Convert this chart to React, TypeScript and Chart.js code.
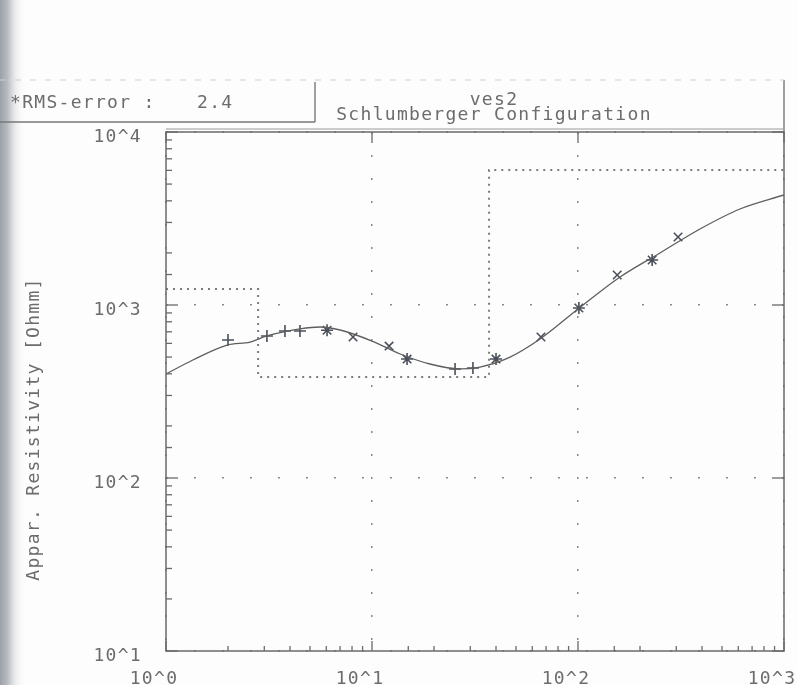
import React, { useEffect, useRef } from "react";
import { Chart, registerables } from "chart.js";
Chart.register(...registerables);

const W = 797;
const H = 685;
const FONT = "'DejaVu Sans Mono', 'Liberation Mono', monospace";
const TXT = "#6c6c6c";

// measured apparent resistivity (AB/2 [m], rho_a [Ohmm]) and marker shape
const dataX = [2.0, 3.09, 3.78, 4.47, 6.05, 8.09, 12.1, 14.8, 25.3, 30.9, 40.0, 66.1, 101, 155, 229, 306];
const dataY = [628, 662, 708, 708, 715, 653, 579, 487, 427, 432, 487, 653, 961, 1490, 1820, 2472];
const dataMarker = ["cross", "cross", "cross", "cross", "star", "crossRot", "crossRot", "star", "cross", "cross", "star", "crossRot", "star", "crossRot", "star", "crossRot"];

// model response curve
const curveX = [1, 1.35, 1.98, 2.56, 3.09, 4.47, 5.59, 7.0, 10, 13.7, 19.1, 26.7, 33.4, 46.8, 65.4, 100, 160, 250, 391, 611, 1000];
const curveY = [399, 481, 587, 611, 662, 727, 746, 717, 619, 521, 456, 427, 438, 500, 636, 948, 1452, 1999, 2750, 3589, 4325];

// layered model (depth, resistivity)
const layerX = [1, 2.8, 2.8, 37, 37, 1000];
const layerY = [1236, 1236, 384, 384, 6030, 6030];

const rmsLabel = "*RMS-error :";
const rmsValue = "2.4";
const titleLine1 = "ves2";
const titleLine2 = "Schlumberger Configuration";
const yTitle = "Appar. Resistivity [Ohmm]";

const isDecade = (v: number) => {
  const l = Math.log10(v);
  return Math.abs(l - Math.round(l)) < 1e-6;
};
const decadeLabel = (v: any) => (isDecade(Number(v)) ? "10^" + Math.round(Math.log10(Number(v))) : "");

const decor = {
  id: "decor",
  beforeDraw(chart: any) {
    const ctx = chart.ctx as CanvasRenderingContext2D;
    ctx.save();
    ctx.fillStyle = "#fdfdfd";
    ctx.fillRect(0, 0, W, H);
    const g = ctx.createLinearGradient(0, 0, 26, 0);
    g.addColorStop(0, "#9ca1a8");
    g.addColorStop(0.25, "#b3b7bd");
    g.addColorStop(0.55, "#e6e7e9");
    g.addColorStop(1, "rgba(253,253,253,0)");
    ctx.fillStyle = g;
    ctx.fillRect(0, 0, 26, H);
    ctx.restore();
    (ctx as any).letterSpacing = "1.3px";
  },
  afterDraw(chart: any) {
    const ctx = chart.ctx as CanvasRenderingContext2D;
    const a = chart.chartArea;
    const xs = chart.scales.x;
    const ys = chart.scales.y;
    const line = (x1: number, y1: number, x2: number, y2: number) => {
      ctx.beginPath();
      ctx.moveTo(x1, y1);
      ctx.lineTo(x2, y2);
      ctx.stroke();
    };
    ctx.save();
    // frame
    ctx.strokeStyle = "#6a6a6a";
    ctx.lineWidth = 1.5;
    ctx.strokeRect(a.left, a.top, a.right - a.left, a.bottom - a.top);
    // inner tick marks from the scales
    ctx.lineWidth = 1.3;
    xs.ticks.forEach((t: any) => {
      const px = xs.getPixelForValue(t.value);
      const major = isDecade(t.value);
      line(px, a.bottom, px, a.bottom - (major ? 10 : 5));
      if (major) line(px, a.top, px, a.top + 11);
    });
    ys.ticks.forEach((t: any) => {
      const py = ys.getPixelForValue(t.value);
      const major = isDecade(t.value);
      line(a.left, py, a.left + (major ? 12 : 6), py);
      if (major) line(a.right, py, a.right - 12, py);
    });
    // header boxes
    ctx.strokeStyle = "#777";
    ctx.lineWidth = 1.4;
    line(0, 122, 315, 122);
    line(315, 82, 315, 122);
    line(a.right, 80, a.right, a.top);
    ctx.lineWidth = 1;
    ctx.strokeStyle = "#9a9a9a";
    line(a.left, a.top - 3, a.right, a.top - 3);
    ctx.strokeStyle = "#cfcfcf";
    ctx.setLineDash([6, 9]);
    line(0, 80, a.right, 80);
    ctx.setLineDash([]);
    // header texts
    ctx.fillStyle = TXT;
    ctx.font = "18px " + FONT;
    ctx.textBaseline = "middle";
    ctx.textAlign = "left";
    ctx.fillText(rmsLabel, 10, 103);
    ctx.fillText(rmsValue, 197, 103);
    ctx.textAlign = "center";
    ctx.fillText(titleLine1, 494, 100);
    ctx.fillText(titleLine2, 494, 115);
    // y axis title
    ctx.translate(34, 429);
    ctx.rotate(-Math.PI / 2);
    ctx.fillText(yTitle, 0, 0);
    ctx.restore();
  },
};

export default function App() {
  const ref = useRef<HTMLCanvasElement | null>(null);
  useEffect(() => {
    document.body.style.margin = "0";
    const canvas = ref.current!;
    const chart = new Chart(canvas, {
      type: "scatter",
      data: {
        datasets: [
          {
            data: layerX.map((x, i) => ({ x, y: layerY[i] })),
            showLine: true,
            pointRadius: 0,
            borderColor: "#7c7c7c",
            borderWidth: 2,
            borderDash: [2, 5],
            tension: 0,
          },
          {
            data: curveX.map((x, i) => ({ x, y: curveY[i] })),
            showLine: true,
            pointRadius: 0,
            borderColor: "#5e5e5e",
            borderWidth: 1.3,
            cubicInterpolationMode: "monotone",
          },
          {
            data: dataX.map((x, i) => ({ x, y: dataY[i] })),
            showLine: false,
            pointStyle: dataMarker as any,
            pointRadius: 6,
            borderColor: "#4a4f5a",
            backgroundColor: "#4a4f5a",
            borderWidth: 1.6,
          },
        ],
      },
      options: {
        animation: false,
        responsive: false,
        devicePixelRatio: 1,
        layout: { padding: { top: 132, right: 13, left: 0, bottom: 0 } },
        plugins: { legend: { display: false }, tooltip: { enabled: false } },
        scales: {
          x: {
            type: "logarithmic",
            min: 1,
            max: 1000,
            position: "bottom",
            afterFit: (s: any) => {
              s.height = 34;
              s.paddingLeft = 0;
              s.paddingRight = 0;
            },
            grid: {
              color: (c: any) => (c.tick && isDecade(c.tick.value) ? "#8a8a8a" : "rgba(0,0,0,0)"),
              lineWidth: 1.5,
              drawTicks: false,
            },
            border: { display: false, dash: [2, 21] },
            ticks: {
              autoSkip: false,
              maxRotation: 0,
              minRotation: 0,
              padding: 18,
              labelOffset: -12,
              color: TXT,
              font: { family: FONT, size: 18 },
              callback: decadeLabel,
            },
          },
          y: {
            type: "logarithmic",
            min: 10,
            max: 10000,
            position: "left",
            afterFit: (s: any) => {
              s.width = 166;
              s.paddingTop = 0;
              s.paddingBottom = 0;
            },
            grid: {
              color: (c: any) => (c.tick && isDecade(c.tick.value) ? "#8a8a8a" : "rgba(0,0,0,0)"),
              lineWidth: 1.5,
              drawTicks: false,
            },
            border: { display: false, dash: [2, 26] },
            ticks: {
              autoSkip: false,
              padding: 24,
              labelOffset: 5,
              color: TXT,
              font: { family: FONT, size: 18 },
              callback: decadeLabel,
            },
          },
        },
      },
      plugins: [decor],
    } as any);
    return () => chart.destroy();
  }, []);
  return (
    <canvas
      ref={ref}
      width={W}
      height={H}
      style={{ position: "fixed", left: 0, top: 0, width: W, height: H, display: "block" }}
    />
  );
}
